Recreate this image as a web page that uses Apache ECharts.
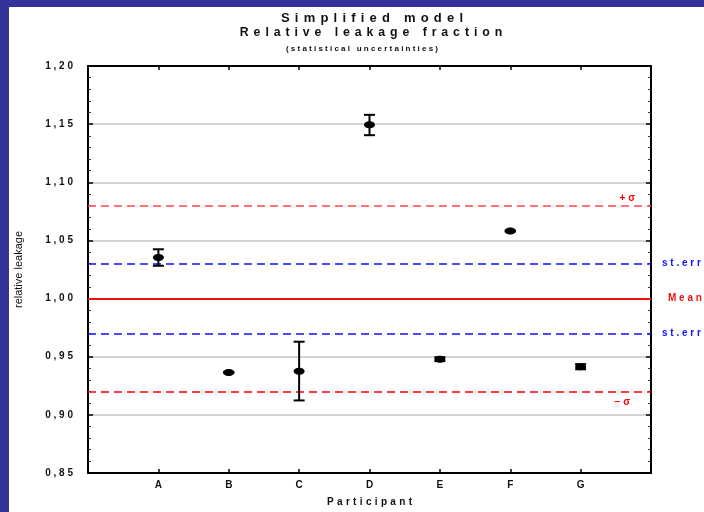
<!DOCTYPE html>
<html>
<head>
<meta charset="utf-8">
<script src="https://cdn.jsdelivr.net/npm/echarts@6/dist/echarts.min.js"></script>
<style>
html,body{margin:0;padding:0;background:#fff;}
#c{width:704px;height:512px;}
</style>
</head>
<body>
<div id="c"></div>
<script>
// ---- data ----
const categories = ['A', 'B', 'C', 'D', 'E', 'F', 'G'];
const values     = [1.0353, 0.9365, 0.9374, 1.1495, 0.9479, 1.0581, 0.9414];
const errLow     = [1.0282, 0.9360, 0.9124, 1.1405, 0.9462, 1.0576, 0.9392];
const errHigh    = [1.0424, 0.9370, 0.9629, 1.1580, 0.9496, 1.0586, 0.9436];
const meanValue  = [1.0009];
const sigmaBand  = [0.9180, 1.0835];
const stErrBand  = [0.9694, 1.0322];
const yTicks     = [0.85, 0.90, 0.95, 1.00, 1.05, 1.10, 1.15, 1.20];

const FONT = 'Liberation Sans, Arial, sans-serif';
function spaced(s, sep) { return s.split('').join(sep); }

const axisCats = [''].concat(categories, ['']);
const pts = categories.map((c, i) => [i + 1, values[i], errLow[i], errHigh[i]]);

const chart = echarts.init(document.getElementById('c'), null, {renderer: 'canvas'});

const yCommon = {
  type: 'value', min: yTicks[0], max: yTicks[yTicks.length - 1], interval: 0.05,
  axisLine: {show: true, lineStyle: {color: '#000', width: 2}},
  axisTick: {show: true, inside: true, length: 5, lineStyle: {color: '#000', width: 1.5}},
  minorTick: {show: true, splitNumber: 5, length: 3, lineStyle: {color: '#333', width: 1}},
};

const option = {
  animation: false,
  backgroundColor: '#fff',
  grid: {left: 88, right: 53, top: 66, bottom: 32, containLabel: false},
  graphic: [
    {type: 'rect', shape: {x: 0, y: 0, width: 704, height: 7}, style: {fill: '#333399'}, z: 100},
    {type: 'rect', shape: {x: 0, y: 0, width: 9, height: 512}, style: {fill: '#333399'}, z: 100},
    {type: 'text', x: 372, y: 18, style: {text: spaced('Simplified model', '\u2009\u2009'), font: 'bold 13px ' + FONT, fill: '#111', textAlign: 'center', textVerticalAlign: 'middle'}},
    {type: 'text', x: 371, y: 33, style: {text: spaced('Relative leakage fraction', '\u2009\u2009'), font: 'bold 12.3px ' + FONT, fill: '#111', textAlign: 'center', textVerticalAlign: 'middle'}},
    {type: 'text', x: 362, y: 49, style: {text: spaced('(statistical uncertainties)', ' '), font: 'bold 8px ' + FONT, fill: '#111', textAlign: 'center', textVerticalAlign: 'middle'}}
  ],
  xAxis: [
    {
      type: 'category', data: axisCats, boundaryGap: false, position: 'bottom',
      name: spaced('Participant', '\u2004'), nameLocation: 'middle', nameGap: 24,
      nameTextStyle: {fontFamily: FONT, fontWeight: 'bold', fontSize: 10, color: '#111'},
      axisLine: {show: true, lineStyle: {color: '#000', width: 2}},
      axisTick: {show: true, inside: true, length: 4, interval: 0, lineStyle: {color: '#000', width: 1.5}},
      axisLabel: {interval: 0, margin: 7, fontFamily: FONT, fontWeight: 'bold', fontSize: 10, color: '#111'},
      splitLine: {show: false}
    },
    {
      type: 'category', data: axisCats, boundaryGap: false, position: 'top',
      axisLine: {show: true, lineStyle: {color: '#000', width: 2}},
      axisTick: {show: true, inside: true, length: 4, interval: 0, lineStyle: {color: '#000', width: 1.5}},
      axisLabel: {show: false}, splitLine: {show: false}
    }
  ],
  yAxis: [
    Object.assign({}, yCommon, {
      position: 'left',
      name: 'relative leakage', nameLocation: 'middle', nameGap: 64,
      nameTextStyle: {fontFamily: FONT, fontSize: 11, color: '#111'},
      axisLabel: {margin: 15, fontFamily: FONT, fontWeight: 'bold', fontSize: 10, color: '#111',
        formatter: v => spaced(v.toFixed(2).replace('.', ','), ' ')},
      splitLine: {show: true, lineStyle: {color: '#c4c4c4', width: 1.5}}
    }),
    Object.assign({}, yCommon, {
      position: 'right',
      axisLabel: {show: false}, splitLine: {show: false}
    })
  ],
  series: [
    {
      type: 'line', data: [], xAxisIndex: 0, yAxisIndex: 0, silent: true,
      markLine: {
        silent: true, symbol: 'none', animation: false,
        data: [
          {yAxis: meanValue[0], lineStyle: {color: '#ee1111', width: 2, type: 'solid'},
           label: {show: true, position: 'end', distance: 17, formatter: spaced('Mean', ' '), color: '#ee1111', fontFamily: FONT, fontWeight: 'bold', fontSize: 10}},
          {yAxis: sigmaBand[1], lineStyle: {color: '#ff4444', width: 1.5, type: [8, 5]},
           label: {show: true, position: 'insideEndTop', distance: [16, 2], formatter: '+ \u03c3', color: '#ff0000', fontFamily: FONT, fontWeight: 'bold', fontSize: 10}},
          {yAxis: sigmaBand[0], lineStyle: {color: '#ff0000', width: 1.5, type: [8, 5]},
           label: {show: true, position: 'insideEndBottom', distance: [21, 6], formatter: '\u2212 \u03c3', color: '#ff0000', fontFamily: FONT, fontWeight: 'bold', fontSize: 10}},
          {yAxis: stErrBand[1], lineStyle: {color: '#1111ff', width: 1.5, type: [8, 5]},
           label: {show: true, position: 'end', distance: 11, formatter: spaced('st.err', ' '), color: '#1111ff', fontFamily: FONT, fontWeight: 'bold', fontSize: 10}},
          {yAxis: stErrBand[0], lineStyle: {color: '#1111ff', width: 1.5, type: [8, 5]},
           label: {show: true, position: 'end', distance: 11, formatter: spaced('st.err', ' '), color: '#1111ff', fontFamily: FONT, fontWeight: 'bold', fontSize: 10}}
        ]
      }
    },
    {
      type: 'custom', xAxisIndex: 0, yAxisIndex: 0, data: pts, z: 10,
      renderItem: function (params, api) {
        const x = api.value(0);
        const c = api.coord([x, api.value(1)]);
        const lo = api.coord([x, api.value(2)]);
        const hi = api.coord([x, api.value(3)]);
        const cap = 5.5;
        const st = {stroke: '#000', lineWidth: 2};
        return {
          type: 'group',
          children: [
            {type: 'line', shape: {x1: lo[0], y1: lo[1], x2: hi[0], y2: hi[1]}, style: st},
            {type: 'line', shape: {x1: lo[0] - cap, y1: lo[1], x2: lo[0] + cap, y2: lo[1]}, style: st},
            {type: 'line', shape: {x1: hi[0] - cap, y1: hi[1], x2: hi[0] + cap, y2: hi[1]}, style: st},
            {type: 'ellipse', shape: {cx: c[0], cy: c[1], rx: 5.5, ry: 3.5}, style: {fill: '#000'}}
          ]
        };
      }
    }
  ]
};
chart.setOption(option);
</script>
</body>
</html>
